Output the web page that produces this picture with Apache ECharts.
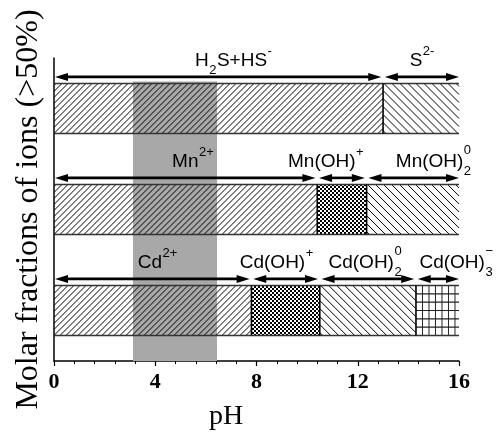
<!DOCTYPE html>
<html>
<head>
<meta charset="utf-8">
<script src="https://cdn.jsdelivr.net/npm/echarts@6/dist/echarts.min.js"></script>
<style>html,body{margin:0;padding:0;background:#fff}#c{width:497px;height:436px}</style>
</head>
<body>
<div id="c"></div>
<script>
// ---------- data ----------
const xTickValues = [0, 4, 8, 12, 16];
const xTickLabels = ['0', '4', '8', '12', '16'];
const rowCategories = ['Cd', 'Mn', 'S']; // bottom to top

const sulfideEdges = [0, 13.0, 16];
const sulfideSpecies = ['H_{2}S+HS^{-}', 'S^{2-}'];
const sulfideLabelAt = [7.1, 14.55];
const sulfidePatterns = ['fwd', 'back'];

const manganeseEdges = [0, 10.4, 12.35, 16];
const manganeseSpecies = ['Mn^{2+}', 'Mn(OH)^{+}', 'Mn(OH)_{2}^{0}'];
const manganeseLabelAt = [5.5, 10.75, 15.0];
const manganesePatterns = ['fwd', 'cross', 'back'];

const cadmiumEdges = [0, 7.8, 10.5, 14.3, 16];
const cadmiumSpecies = ['Cd^{2+}', 'Cd(OH)^{+}', 'Cd(OH)_{2}^{0}', 'Cd(OH)_{3}^{\u2212}'];
const cadmiumLabelAt = [4.1, 8.8, 12.3, 15.9];
const cadmiumPatterns = ['fwd', 'cross', 'back', 'grid'];

const shadedPH = [3.12, 6.44];

// ---------- build ----------
const SANS = '"Liberation Sans", Arial, sans-serif';
const SERIF = '"Liberation Serif", "Times New Roman", serif';
const segments = [];
function addRow(cat, edges, species, labelAt, patterns) {
  const r = rowCategories.indexOf(cat);
  for (let i = 0; i < species.length; i++) {
    segments.push({ row: r, x0: edges[i], x1: edges[i + 1], label: species[i], labelAt: labelAt[i], pattern: patterns[i] });
  }
}
addRow('S', sulfideEdges, sulfideSpecies, sulfideLabelAt, sulfidePatterns);
addRow('Mn', manganeseEdges, manganeseSpecies, manganeseLabelAt, manganesePatterns);
addRow('Cd', cadmiumEdges, cadmiumSpecies, cadmiumLabelAt, cadmiumPatterns);

const mctx = document.createElement('canvas').getContext('2d');
function tw(t, size) { mctx.font = size + 'px ' + SANS; return mctx.measureText(t).width; }

function parseLabel(s) {
  const out = []; let i = 0;
  const isMark = k => (s[k] === '_' || s[k] === '^') && s[k + 1] === '{';
  while (i < s.length) {
    if (isMark(i)) {
      const j = s.indexOf('}', i);
      out.push({ k: s[i] === '_' ? 'sub' : 'sup', t: s.slice(i + 2, j) });
      i = j + 1;
    } else {
      let j = i; while (j < s.length && !isMark(j)) j++;
      out.push({ k: 'n', t: s.slice(i, j) }); i = j;
    }
  }
  const m = [];
  for (let k = 0; k < out.length; k++) {
    if (out[k].k === 'sub' && out[k + 1] && out[k + 1].k === 'sup') { m.push({ k: 'subsup', t: out[k].t, t2: out[k + 1].t }); k++; }
    else m.push(out[k]);
  }
  return m;
}
function txt(t, x, y, size) {
  return { type: 'text', x: x, y: y, silent: true,
    style: { text: t, fill: '#000', font: size + 'px ' + SANS, align: 'left', verticalAlign: 'middle', textAlign: 'left', textVerticalAlign: 'middle' } };
}
function labelEls(markup, cx, cy) {
  const MAIN = 19, SMALL = 13;
  const parts = parseLabel(markup);
  const widths = parts.map(p => p.k === 'n' ? tw(p.t, MAIN) :
    p.k === 'subsup' ? Math.max(tw(p.t, SMALL), tw(p.t2, SMALL)) + 1 : tw(p.t, SMALL) + 1);
  const total = widths.reduce((a, b) => a + b, 0);
  let x = cx - total / 2; const els = [];
  parts.forEach((p, i) => {
    if (p.k === 'n') els.push(txt(p.t, x, cy, MAIN));
    else if (p.k === 'sub') els.push(txt(p.t, x + 0.5, cy + 10, SMALL));
    else if (p.k === 'sup') els.push(txt(p.t, x + 0.5, cy - 9, SMALL));
    else { els.push(txt(p.t, x + 0.5, cy + 10, SMALL)); els.push(txt(p.t2, x + 0.5, cy - 11, SMALL)); }
    x += widths[i];
  });
  return els;
}

const ck = document.createElement('canvas'); ck.width = 4; ck.height = 4;
(function () { const g = ck.getContext('2d'); g.fillStyle = '#fff'; g.fillRect(0, 0, 4, 4); g.fillStyle = '#000'; g.fillRect(0, 0, 2, 2); g.fillRect(2, 2, 2, 2); })();

function ln(x1, y1, x2, y2, w, c) {
  return { type: 'line', silent: true, shape: { x1: x1, y1: y1, x2: x2, y2: y2 }, style: { stroke: c || '#000', lineWidth: w || 1 } };
}
function hatch(kind, L, R, T, B) {
  const els = [];
  if (kind === 'fwd') {
    const s = 6;
    for (let c = L + T + 2; c < R + B; c += s) {
      const xa = Math.max(L, c - B), xb = Math.min(R, c - T);
      if (xb > xa) els.push(ln(xa, c - xa, xb, c - xb, 1));
    }
  } else if (kind === 'back') {
    const s = 8;
    for (let c = L - B + 3; c < R - T; c += s) {
      const xa = Math.max(L, c + T), xb = Math.min(R, c + B);
      if (xb > xa) els.push(ln(xa, xa - c, xb, xb - c, 1));
    }
  } else if (kind === 'cross') {
    els.push({ type: 'rect', silent: true, shape: { x: L, y: T, width: R - L, height: B - T }, style: { fill: { image: ck, repeat: 'repeat' } } });
  } else if (kind === 'grid') {
    for (let x = L + 6.5; x < R; x += 6.5) els.push(ln(x, T, x, B, 1, '#222'));
    const hs = (B - T) / 6;
    for (let k = 1; k < 6; k++) els.push(ln(L, T + k * hs, R, T + k * hs, 1.2, '#222'));
  }
  return els;
}
function arrowHead(tipX, y, dir) { // dir -1: points left, +1: points right
  const len = 13, hh = 4;
  return { type: 'polygon', silent: true, shape: { points: [[tipX, y], [tipX - dir * len, y - hh], [tipX - dir * len, y + hh]] }, style: { fill: '#000' } };
}

const chart = echarts.init(document.getElementById('c'), null, { renderer: 'canvas' });
chart.setOption({
  animation: false,
  backgroundColor: '#fff',
  grid: { left: 54, right: 38, top: 58, bottom: 68, containLabel: false },
  xAxis: {
    type: 'value', min: 0, max: 16, interval: 4,
    axisLine: { show: true, lineStyle: { color: '#000', width: 1.5 } },
    axisTick: { show: true, inside: false, length: 5, lineStyle: { color: '#000', width: 1.2 } },
    minorTick: { show: true, splitNumber: 5, length: 3, lineStyle: { color: '#000', width: 1 } },
    splitLine: { show: false },
    axisLabel: { color: '#000', fontFamily: SERIF, fontWeight: 'bold', fontSize: 22, margin: 10,
      formatter: v => { const i = xTickValues.indexOf(v); return i >= 0 ? xTickLabels[i] : ''; } },
    name: 'pH', nameLocation: 'middle', nameGap: 42,
    nameTextStyle: { color: '#000', fontFamily: SERIF, fontSize: 28, padding: [0, 61, 0, 0] }
  },
  yAxis: {
    type: 'category', data: rowCategories,
    axisLine: { show: true, onZero: false, lineStyle: { color: '#000', width: 1.5 } },
    axisTick: { show: false }, axisLabel: { show: false }, splitLine: { show: false },
    name: 'Molar fractions of ions (>50%)', nameLocation: 'middle', nameRotate: 90, nameGap: 9,
    nameTextStyle: { color: '#000', fontFamily: SERIF, fontSize: 32 }
  },
  series: [
    {
      type: 'custom', z: 1, clip: false, silent: true,
      data: [[shadedPH[0], shadedPH[1]]],
      encode: { x: [0, 1] },
      renderItem: function (params, api) {
        const cs = params.coordSys;
        const band = cs.height / rowCategories.length;
        const a = api.coord([api.value(0), rowCategories.length - 1]);
        const b = api.coord([api.value(1), rowCategories.length - 1]);
        const top = a[1] - band * 0.248 - 2;
        return { type: 'rect', shape: { x: a[0], y: top, width: b[0] - a[0], height: cs.y + cs.height - top }, style: { fill: '#a8a8a8' } };
      }
    },
    {
      type: 'custom', z: 2, clip: false, silent: true,
      data: segments.map((s, i) => [s.x0, s.x1, s.row, i]),
      encode: { x: [0, 1], y: 2 },
      renderItem: function (params, api) {
        const s = segments[api.value(3)];
        const cs = params.coordSys;
        const band = cs.height / rowCategories.length;
        const a = api.coord([s.x0, s.row]), b = api.coord([s.x1, s.row]);
        const yc = a[1], L = a[0], R = b[0];
        const half = band * 0.248;
        const T = yc - half, B = yc + half;
        const kids = hatch(s.pattern, L, R, T, B);
        kids.push(ln(L, T, R, T, 1.5, '#333'));
        kids.push(ln(L, B, R, B, 1.5, '#333'));
        if (s.x0 > 0) kids.push(ln(L, T, L, B, 1.6, '#000'));
        // arrow
        const ay = yc - band * 0.313;
        const lt = s.x0 > 0 ? L + 1.8 : L + 1;
        const rt = s.x1 < 16 ? R - 1.8 : R;
        kids.push(ln(lt + 8, ay, rt - 8, ay, 2.6, '#000'));
        kids.push(arrowHead(lt, ay, -1));
        kids.push(arrowHead(rt, ay, 1));
        // label
        const lc = api.coord([s.labelAt, s.row]);
        labelEls(s.label, lc[0], yc - band * 0.475).forEach(e => kids.push(e));
        return { type: 'group', children: kids };
      }
    }
  ]
});
</script>
</body>
</html>
